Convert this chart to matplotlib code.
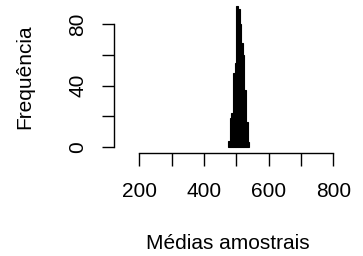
import matplotlib
matplotlib.use("Agg")
import matplotlib.pyplot as plt
import numpy as np

# Histogram data (sample means), bins of width 5
bin_edges = [475, 480, 485, 490, 495, 500, 505, 510, 515, 520, 525, 530, 535, 540]
counts = [4, 19, 22, 48, 55, 92, 90, 80, 68, 60, 37, 16, 3]

xticks = [200, 300, 400, 500, 600, 700, 800]
xticklabels = ["200", "", "400", "", "600", "", "800"]
yticks = [0, 20, 40, 60, 80]
yticklabels = ["0", "", "40", "", "80"]

plt.rcParams['font.family'] = ['Liberation Sans', 'DejaVu Sans']

W, H = 363, 256
fig = plt.figure(figsize=(W / 100, H / 100), dpi=100)
left, right, top, bottom = 114, 341.6, 2, 152.5
ax = fig.add_axes([left / W, 1 - bottom / H, (right - left) / W, (bottom - top) / H])

edges = np.array(bin_edges, dtype=float)
ax.bar(edges[:-1], counts, width=np.diff(edges), align='edge',
       color='black', edgecolor='black', linewidth=0.8)

ax.set_xlim(121.7, 825.7)
ax.set_ylim(-3.7, 94.7)

for s in ['top', 'right']:
    ax.spines[s].set_visible(False)
ax.spines['bottom'].set_bounds(200, 800)
ax.spines['left'].set_bounds(0, 80)
for s in ['bottom', 'left']:
    ax.spines[s].set_linewidth(1.0)

ax.set_xticks(xticks)
ax.set_xticklabels(xticklabels, fontsize=15)
ax.set_yticks(yticks)
ax.set_yticklabels(yticklabels, fontsize=15, rotation=90, va='center')
ax.tick_params(direction='out', length=9, width=1.0)
ax.tick_params(axis='x', pad=12)
ax.tick_params(axis='y', pad=10)

ax.set_xlabel("Médias amostrais", fontsize=15)
ax.xaxis.set_label_coords((227.8 - left) / (right - left), -(234 - bottom) / (bottom - top))
ax.set_ylabel("Frequência", fontsize=15)
ax.yaxis.set_label_coords(-(left - 34) / (right - left), (bottom - 77) / (bottom - top))

fig.savefig("out.png", dpi=100)
